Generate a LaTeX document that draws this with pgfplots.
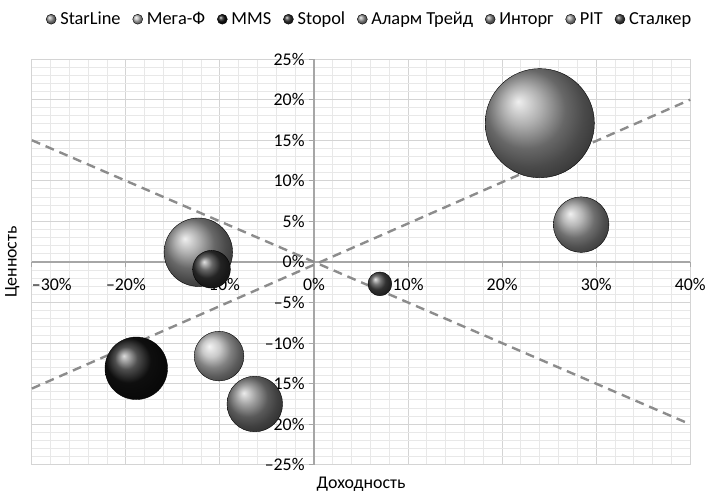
\documentclass[border=0pt]{standalone}
\usepackage{pgfplots}
\pgfplotsset{compat=1.18}
\usepackage{fontspec}
\setmainfont{Carlito}
\usetikzlibrary{plotmarks}

\definecolor{majgrid}{HTML}{D4D4D4}
\definecolor{mingrid}{HTML}{E8E8E8}
\definecolor{axisgray}{HTML}{A6A6A6}
\definecolor{trendgray}{HTML}{8C8C8C}

% one bubble series: shaded sphere, radius taken from column r
\pgfplotsset{
  bub/.style={
    only marks, mark=ball, scatter,
    on layer=axis background,
    scatter/use mapped color={ball color=#1},
    visualization depends on={\thisrow{r}\as\rad},
    scatter/@pre marker code/.append style={/tikz/mark size=\rad},
    legend image code/.code={\shade[ball color=#1] (5bp,0) circle (5bp);}
  }
}

\begin{document}
\begin{tikzpicture}
\path (0,0) rectangle (709bp,496bp);
\begin{axis}[
  set layers,
  at={(32bp,29.3bp)}, anchor=south west,
  scale only axis, width=661bp, height=407.4bp,
  xmin=-30, xmax=40, ymin=-25, ymax=25,
  axis lines=middle,
  axis line style={axisgray, line width=1.5bp, -},
  hide obscured x ticks=false, hide obscured y ticks=false,
  xtick={-30,-20,...,40},
  xticklabels={\makebox[0pt][l]{–30\%},–20\%,–10\%,0\%,10\%,20\%,30\%,40\%},
  ytick={-25,-20,...,25},
  yticklabels={–25\%,–20\%,–15\%,–10\%,–5\%,0\%,5\%,10\%,15\%,20\%,25\%},
  minor x tick num=4, minor y tick num=4,
  grid=both,
  major grid style={majgrid, line width=1bp},
  minor grid style={mingrid, line width=1bp},
  tick style={axisgray, line width=1bp},
  major tick length=5bp, minor tick length=0pt,
  tick align=outside,
  ticklabel style={font=\fontsize{18}{20}\selectfont},
  xticklabel style={yshift=-8bp},
  yticklabel style={xshift=-1bp},
  every axis x label/.style={at={(rel axis cs:0.5,0)}, anchor=north, yshift=-9bp,
    font=\fontsize{18}{20}\selectfont},
  every axis y label/.style={at={(rel axis cs:0,0.5)}, rotate=90, anchor=south, yshift=9bp,
    font=\fontsize{18}{20}\selectfont},
  xlabel={Доходность}, ylabel={Ценность},
  legend columns=-1,
  legend style={at={(rel axis cs:0.513,1)}, anchor=center, yshift=40bp,
    draw=none, fill=none, font=\fontsize{18.5}{20}\selectfont,
    inner sep=0pt,
    /tikz/every odd column/.append style={column sep=2bp},
    /tikz/every even column/.append style={column sep=10bp}},
  legend cell align=left,
  clip=false,
]
% reference lines
\addplot[trendgray, line width=2.4bp, dash pattern=on 9bp off 6bp, forget plot]
  coordinates {(-30,15) (40,-20)};
\addplot[trendgray, line width=2.4bp, dash pattern=on 9bp off 6bp, forget plot]
  coordinates {(-30,-15.6) (40,20)};

% bubbles: x = доходность, y = ценность, r = radius
\addplot[bub=black!42] table {
x y r
-12.3 1.2 34.5
};
\addlegendentry{StarLine}
\addplot[bub=black!28] table {
x y r
-10.1 -11.6 25
};
\addlegendentry{Мега-Ф}
\addplot[bub=black!92] table {
x y r
-18.9 -13.1 31.5
};
\addlegendentry{MMS}
\addplot[bub=black!80] table {
x y r
-10.9 -0.9 19
};
\addlegendentry{Stopol}
\addplot[bub=black!42] table {
x y r
24.0 17.1 55
};
\addlegendentry{Аларм Трейд}
\addplot[bub=black!50] table {
x y r
-6.3 -17.5 28
};
\addlegendentry{Инторг}
\addplot[bub=black!38] table {
x y r
28.4 4.6 28
};
\addlegendentry{PIT}
\addplot[bub=black!72] table {
x y r
7.0 -2.7 12
};
\addlegendentry{Сталкер}
\end{axis}
\end{tikzpicture}
\end{document}
